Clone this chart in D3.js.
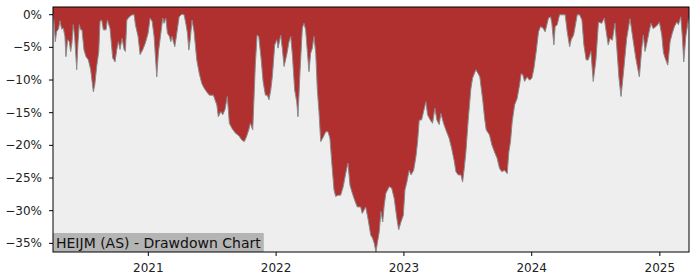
<!DOCTYPE html>
<html>
<head>
<meta charset="utf-8">
<script src="https://cdn.jsdelivr.net/npm/d3@7"></script>
<style>
  body { margin: 0; background: #fff; }
  svg text { font-family: "DejaVu Sans", sans-serif; }
</style>
</head>
<body>
<svg id="chart" width="700" height="280"></svg>
<script>
// dates as decimal years, drawdown in percent
const dates = [
  2020.260, 2020.267, 2020.278, 2020.288, 2020.304, 2020.314, 2020.328, 2020.340, 2020.353, 2020.361,
  2020.374, 2020.387, 2020.398, 2020.408, 2020.418, 2020.429, 2020.445, 2020.455, 2020.465, 2020.476,
  2020.486, 2020.502, 2020.518, 2020.536, 2020.554, 2020.575, 2020.586, 2020.601, 2020.617, 2020.627,
  2020.640, 2020.653, 2020.674, 2020.684, 2020.705, 2020.726, 2020.744, 2020.758, 2020.770, 2020.783,
  2020.799, 2020.815, 2020.825, 2020.836, 2020.856, 2020.877, 2020.893, 2020.903, 2020.924, 2020.940,
  2020.961, 2020.981, 2021.002, 2021.018, 2021.034, 2021.049, 2021.070, 2021.083, 2021.102, 2021.117,
  2021.127, 2021.141, 2021.153, 2021.169, 2021.180, 2021.190, 2021.200, 2021.211, 2021.227, 2021.245,
  2021.266, 2021.284, 2021.299, 2021.310, 2021.321, 2021.331, 2021.346, 2021.362, 2021.383, 2021.403,
  2021.422, 2021.440, 2021.461, 2021.482, 2021.513, 2021.540, 2021.552, 2021.571, 2021.586, 2021.604,
  2021.622, 2021.638, 2021.659, 2021.685, 2021.712, 2021.737, 2021.755, 2021.771, 2021.790, 2021.802,
  2021.821, 2021.841, 2021.855, 2021.868, 2021.886, 2021.902, 2021.920, 2021.935, 2021.948, 2021.962,
  2021.974, 2021.993, 2022.009, 2022.019, 2022.040, 2022.052, 2022.066, 2022.087, 2022.105, 2022.118,
  2022.131, 2022.149, 2022.165, 2022.175, 2022.191, 2022.209, 2022.222, 2022.235, 2022.248, 2022.261,
  2022.274, 2022.287, 2022.300, 2022.314, 2022.326, 2022.339, 2022.353, 2022.373, 2022.392, 2022.410,
  2022.425, 2022.443, 2022.457, 2022.470, 2022.488, 2022.509, 2022.529, 2022.548, 2022.566, 2022.582,
  2022.600, 2022.619, 2022.639, 2022.665, 2022.678, 2022.705, 2022.723, 2022.744, 2022.759, 2022.772,
  2022.785, 2022.798, 2022.811, 2022.824, 2022.838, 2022.850, 2022.863, 2022.889, 2022.908, 2022.928,
  2022.949, 2022.963, 2022.981, 2022.999, 2023.012, 2023.027, 2023.045, 2023.059, 2023.080, 2023.098,
  2023.111, 2023.124, 2023.142, 2023.158, 2023.176, 2023.189, 2023.210, 2023.228, 2023.246, 2023.262,
  2023.280, 2023.293, 2023.314, 2023.332, 2023.358, 2023.377, 2023.397, 2023.411, 2023.429, 2023.450,
  2023.463, 2023.476, 2023.489, 2023.507, 2023.528, 2023.541, 2023.567, 2023.585, 2023.598, 2023.622,
  2023.635, 2023.648, 2023.674, 2023.692, 2023.713, 2023.734, 2023.752, 2023.770, 2023.791, 2023.812,
  2023.825, 2023.838, 2023.851, 2023.870, 2023.890, 2023.909, 2023.921, 2023.935, 2023.948, 2023.968,
  2023.987, 2024.005, 2024.021, 2024.039, 2024.057, 2024.073, 2024.091, 2024.109, 2024.125, 2024.135,
  2024.151, 2024.161, 2024.177, 2024.187, 2024.203, 2024.221, 2024.247, 2024.265, 2024.281, 2024.300,
  2024.312, 2024.331, 2024.343, 2024.359, 2024.378, 2024.396, 2024.411, 2024.429, 2024.445, 2024.466,
  2024.484, 2024.505, 2024.525, 2024.550, 2024.570, 2024.587, 2024.601, 2024.615, 2024.633, 2024.654,
  2024.672, 2024.685, 2024.701, 2024.719, 2024.745, 2024.771, 2024.797, 2024.816, 2024.831, 2024.844,
  2024.863, 2024.875, 2024.888, 2024.902, 2024.920, 2024.935, 2024.951, 2024.967, 2024.988, 2025.000,
  2025.019, 2025.032, 2025.045, 2025.066, 2025.084, 2025.100, 2025.118, 2025.136, 2025.149, 2025.168,
  2025.180, 2025.191, 2025.207, 2025.227, 2025.232
];
const drawdown = [
  0.0, -0.9, -4.2, -2.7, -2.2, -1.0, -2.3, -2.1, -3.4, -6.5,
  -3.9, -4.2, -5.7, -4.4, -1.6, -3.4, -8.5, -4.4, -1.6, -2.4,
  -2.4, -5.5, -6.5, -7.0, -8.5, -11.9, -10.8, -8.0, -5.7, -1.1,
  -0.9, -2.4, -2.4, -0.9, -2.2, -6.7, -7.3, -5.4, -4.2, -5.4,
  -3.7, -5.4, -5.7, -0.9, -0.4, -0.1, -0.1, -1.6, -3.4, -6.2,
  -5.4, -4.4, -2.9, -0.6, -1.1, -3.4, -9.6, -5.8, -2.9, -0.6,
  -1.4, -0.6, -2.9, -3.4, -4.2, -3.4, -4.2, -5.0, -2.9, -0.4,
  0.0, -0.1, -1.6, -2.9, -5.5, -4.0, -0.9, -2.7, -7.0, -9.1,
  -10.6, -11.3, -11.9, -12.4, -12.4, -13.9, -15.7, -14.9, -15.4, -14.6,
  -12.6, -16.7, -17.5, -18.2, -18.6, -19.3, -19.5, -18.8, -17.7, -16.7,
  -17.7, -7.8, -3.2, -3.4, -6.7, -10.3, -12.4, -12.4, -13.1, -11.6,
  -9.6, -4.7, -3.9, -5.2, -3.2, -5.2, -8.0, -6.2, -4.2, -3.4,
  -6.2, -11.6, -13.4, -15.7, -8.8, -2.1, -1.4, -2.4, -5.7, -8.8,
  -6.0, -5.2, -3.4, -6.0, -11.4, -14.9, -19.5, -18.8, -18.0, -18.0,
  -19.0, -23.6, -26.9, -27.9, -27.7, -27.7, -26.4, -24.4, -22.8, -26.2,
  -27.4, -28.5, -29.5, -29.5, -30.5, -29.5, -31.3, -33.8, -34.3, -35.1,
  -36.4, -34.8, -33.3, -30.2, -31.8, -29.2, -27.4, -26.4, -26.6, -28.2,
  -31.3, -33.0, -31.8, -30.8, -26.9, -25.7, -23.9, -24.6, -23.9, -21.8,
  -19.5, -16.2, -16.2, -14.9, -13.4, -15.4, -16.2, -16.7, -14.4, -16.2,
  -16.9, -15.2, -16.7, -17.7, -19.0, -20.5, -22.4, -24.1, -24.6, -24.6,
  -25.7, -23.6, -21.1, -16.2, -11.4, -9.8, -8.5, -9.1, -9.6, -13.4,
  -15.9, -17.7, -18.5, -20.0, -21.1, -22.1, -23.6, -24.1, -23.9, -24.4,
  -21.1, -19.5, -16.5, -13.9, -12.9, -10.8, -9.1, -9.3, -10.3, -9.6,
  -10.1, -9.8, -8.3, -5.7, -2.7, -1.9, -2.1, -2.7, -1.4, -0.6,
  -0.4, -1.4, -4.7, -1.9, -1.6, -0.1, -0.1, -0.1, -2.7, -5.0,
  -3.9, -3.2, -1.9, -0.1, -0.1, -0.9, -4.7, -7.0, -7.0, -5.7,
  -10.3, -7.0, -1.2, -1.4, -0.6, -2.9, -4.7, -3.7, -4.0, -1.4,
  -6.2, -9.8, -12.6, -9.1, -3.7, -0.7, -4.2, -6.7, -8.3, -9.6,
  -5.2, -3.2, -5.7, -4.5, -2.7, -1.4, -2.2, -2.0, -1.6, -1.2,
  -3.2, -5.9, -6.7, -7.8, -4.2, -3.0, -1.9, -1.2, -1.6, -0.4,
  -3.5, -7.3, -3.4, -0.9, -0.5
];
const yTicks = [0, -5, -10, -15, -20, -25, -30, -35];
const yDomain = [-36.4, 1.1];
const title = "HEIJM (AS) - Drawdown Chart";

function toDate(t) {
  const y = Math.floor(t);
  const s = Date.UTC(y, 0, 1), e = Date.UTC(y + 1, 0, 1);
  return new Date(s + (t - y) * (e - s));
}

const data = dates.map((t, i) => ({ date: toDate(t), dd: drawdown[i] }));

const svg = d3.select("#chart"),
    margin = { top: 7, right: 11, bottom: 28, left: 53 },
    width = +svg.attr("width") - margin.left - margin.right,
    height = +svg.attr("height") - margin.top - margin.bottom,
    g = svg.append("g").attr("transform", "translate(" + margin.left + "," + margin.top + ")");

const x = d3.scaleUtc().domain(d3.extent(data, d => d.date)).range([0, width]);
const y = d3.scaleLinear().domain(yDomain).range([height, 0]);

g.append("rect")
    .attr("width", width)
    .attr("height", height)
    .attr("fill", "#eeeeee");

var area = d3.area()
    .x(d => x(d.date))
    .y0(y(yDomain[1]))
    .y1(d => y(d.dd));

var line = d3.line()
    .x(d => x(d.date))
    .y(d => y(d.dd));

g.append("path")
    .datum(data)
    .attr("d", area)
    .attr("fill", "#b03030");

g.append("path")
    .datum(data)
    .attr("d", line)
    .attr("fill", "none")
    .attr("stroke", "#8a8a8a")
    .attr("stroke-width", 1);

// title box in the lower left
const tb = g.append("g").attr("transform", "translate(0," + height + ")");
const tt = tb.append("text")
    .attr("x", 3)
    .attr("y", -4.5)
    .attr("font-size", "14px")
    .attr("fill", "#111")
    .text(title);
const tw = tt.node().getComputedTextLength();
tb.insert("rect", "text")
    .attr("x", 0)
    .attr("y", -19)
    .attr("width", tw + 6)
    .attr("height", 19)
    .attr("fill", "#b4b4b4");

const fmtPct = d => (d < 0 ? "\u2212" : "") + Math.abs(d) + "%";

const yAxis = g.append("g")
    .call(d3.axisLeft(y).tickValues(yTicks).tickFormat(fmtPct).tickSize(4).tickPadding(7));

const xAxis = g.append("g")
    .attr("transform", "translate(0," + height + ")")
    .call(d3.axisBottom(x).ticks(d3.utcYear.every(1)).tickFormat(d3.utcFormat("%Y")).tickSize(4).tickPadding(7));

[yAxis, xAxis].forEach(a => {
  a.select(".domain").remove();
  a.selectAll("text").attr("font-size", "12px").attr("fill", "#222").style("font-family", "DejaVu Sans, sans-serif");
  a.selectAll("line").attr("stroke", "#000");
});

g.append("rect")
    .attr("width", width)
    .attr("height", height)
    .attr("fill", "none")
    .attr("stroke", "#000")
    .attr("stroke-width", 1);
</script>
</body>
</html>
